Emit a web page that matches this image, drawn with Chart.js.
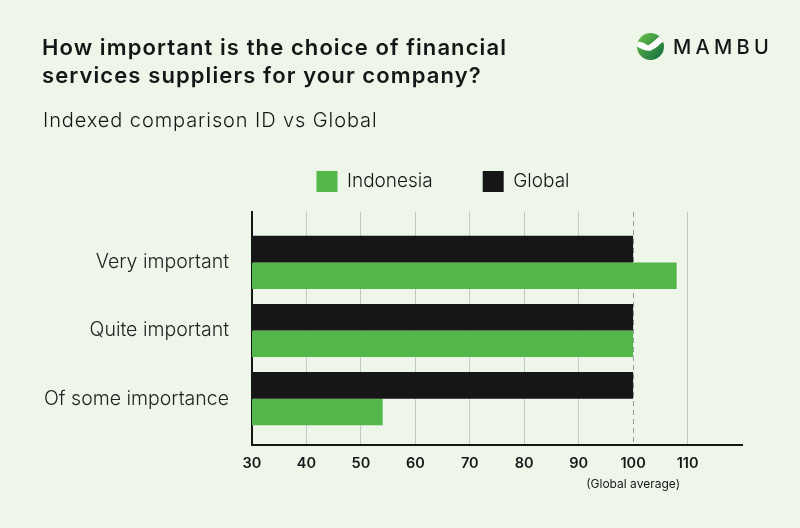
<!DOCTYPE html>
<html>
<head>
<meta charset="utf-8">
<script src="https://cdn.jsdelivr.net/npm/chart.js@4.4.1/dist/chart.umd.min.js"></script>
<style>
  html, body { margin: 0; padding: 0; }
  body {
    width: 800px; height: 528px; position: relative; overflow: hidden;
    background: #eef6ea; color: #161616;
    font-family: Inter, "Noto Sans", sans-serif;
  }
  #wrap { position: absolute; left: 0; top: 0; width: 800px; height: 528px; }
  #title {
    position: absolute; left: 42px; top: 33px; margin: 0;
    font-size: 22px; font-weight: 600; line-height: 28px; letter-spacing: 1.1px;
  }
  #subtitle {
    position: absolute; left: 43px; top: 108px;
    font-size: 20px; font-weight: 300; line-height: 24px; letter-spacing: 0.9px;
  }
  #logo { position: absolute; left: 637px; top: 33px; display: flex; align-items: center; }
  #logo span { font-size: 20px; font-weight: 500; letter-spacing: 4.3px; margin-left: 9px; }
</style>
</head>
<body>
<div id="wrap"><canvas id="chart"></canvas></div>
<h1 id="title">How important is the choice of financial<br>services suppliers for your company?</h1>
<div id="subtitle">Indexed comparison ID vs Global</div>
<div id="logo">
  <svg width="27" height="27" viewBox="0 0 27 27">
    <defs>
      <linearGradient id="lg" x1="0" y1="0" x2="1" y2="1">
        <stop offset="0" stop-color="#6cc24a"/>
        <stop offset="1" stop-color="#0e6a3e"/>
      </linearGradient>
      <clipPath id="cp"><circle cx="13.5" cy="13.5" r="13.5"/></clipPath>
    </defs>
    <circle cx="13.5" cy="13.5" r="13.5" fill="url(#lg)"/>
    <path clip-path="url(#cp)" d="M-1 9 C3 8 7 9.5 11 12.5 C15 10.5 19 6 24 2 L28 2 L28 8 C24 9 21 14.5 14.5 17.2 C9 19 3 15.5 -1 13 Z" fill="#ffffff"/>
  </svg>
  <span>MAMBU</span>
</div>
<script>
const categories = ['Very important', 'Quite important', 'Of some importance'];
const indonesiaValues = [108, 100, 54];
const globalValues = [100, 100, 100];
const xMin = 30;
const xMax = 120;
const xStep = 10;
const averageValue = 100;
const averageLabel = '(Global average)';

const green = '#52b748';
const black = '#161616';
const fontFamily = 'Inter, "Noto Sans", sans-serif';

// legend: fixed height and shifted so it centres where the original sits
const legendPlacement = {
    id: 'legendPlacement',
    beforeInit(chart) {
        const fit = chart.legend.fit;
        chart.legend.fit = function () {
            fit.call(this);
            this.height = 91;
        };
    },
    afterLayout(chart) {
        chart.legend.left = 144;
    }
};

// small caption under the 100 tick
const averageCaption = {
    id: 'averageCaption',
    afterDraw(chart) {
        const { ctx, scales } = chart;
        ctx.save();
        ctx.font = '400 12px ' + fontFamily;
        ctx.fillStyle = black;
        ctx.textAlign = 'center';
        ctx.textBaseline = 'middle';
        ctx.fillText(averageLabel, scales.x.getPixelForValue(averageValue), 484);
        ctx.restore();
    }
};

const toPoints = (values) => values.map((v, i) => ({ x: v, y: i }));

new Chart(document.getElementById('chart'), {
    type: 'bar',
    data: {
        datasets: [
            { label: 'Global', data: toPoints(globalValues), backgroundColor: black },
            { label: 'Indonesia', data: toPoints(indonesiaValues), backgroundColor: green }
        ]
    },
    options: {
        indexAxis: 'y',
        responsive: true,
        maintainAspectRatio: false,
        animation: false,
        layout: { padding: { top: 121, left: 0, right: 58, bottom: 0 } },
        datasets: { bar: { categoryPercentage: 0.78, barPercentage: 1.0, borderWidth: 0 } },
        plugins: {
            legend: {
                position: 'top',
                reverse: true,
                labels: {
                    boxWidth: 21,
                    boxHeight: 21,
                    padding: 50,
                    color: black,
                    font: { size: 19, family: fontFamily, weight: '300' }
                }
            },
            tooltip: { enabled: false }
        },
        scales: {
            x: {
                type: 'linear',
                min: xMin,
                max: xMax,
                afterFit: (s) => { s.height = 83; },
                ticks: {
                    stepSize: xStep,
                    padding: 10,
                    color: black,
                    font: { size: 14.5, weight: '600', family: fontFamily },
                    callback: (v) => (v === xMax ? '' : v)
                },
                grid: {
                    drawTicks: false,
                    lineWidth: 1,
                    color: (ctx) => {
                        const v = ctx.tick && ctx.tick.value;
                        if (v === xMin || v === xMax) return 'rgba(0,0,0,0)';
                        return v === averageValue ? '#9a9a9a' : '#c6c8c4';
                    }
                },
                border: {
                    color: black,
                    width: 2,
                    dash: (ctx) => (ctx.tick && ctx.tick.value === averageValue ? [5, 4] : [])
                }
            },
            y: {
                type: 'linear',
                reverse: true,
                offset: false,
                min: -0.74,
                max: 2.68,
                afterBuildTicks: (s) => { s.ticks = categories.map((c, i) => ({ value: i })); },
                afterFit: (s) => { s.width = 252; },
                grid: { display: false, drawTicks: false },
                border: { display: true, color: black, width: 2 },
                ticks: {
                    padding: 23,
                    color: '#222222',
                    font: { size: 19.5, family: fontFamily, weight: '300' },
                    callback: (v) => categories[v]
                }
            }
        }
    },
    plugins: [legendPlacement, averageCaption]
});
</script>
</body>
</html>
